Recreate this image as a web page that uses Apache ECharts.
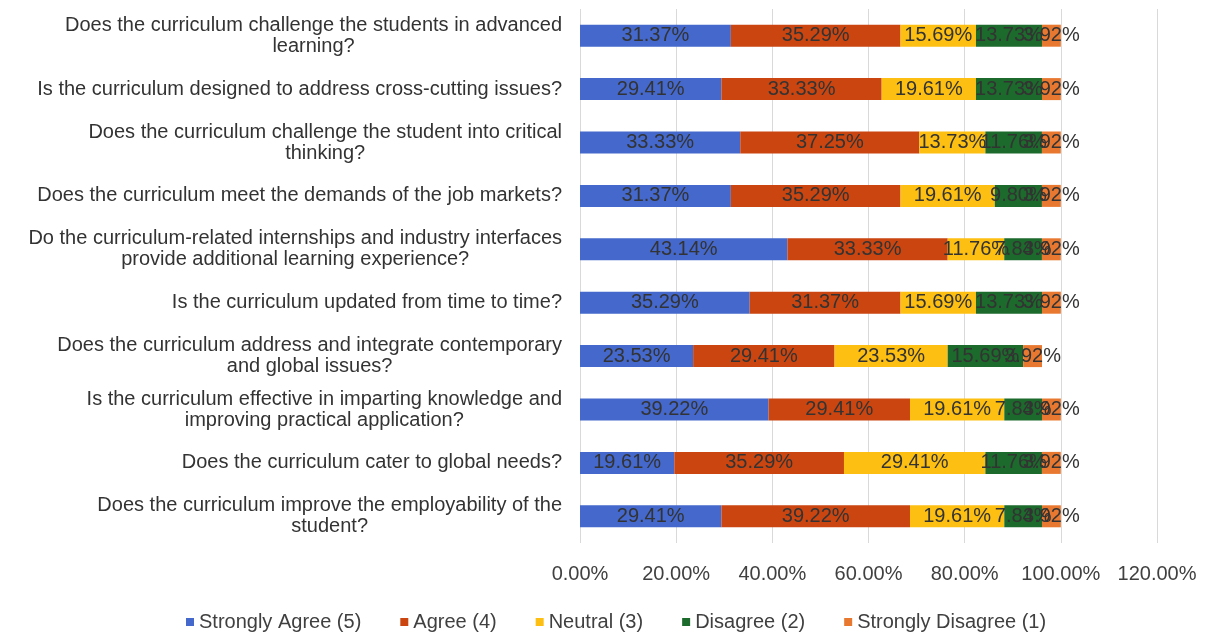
<!DOCTYPE html>
<html>
<head>
<meta charset="utf-8">
<script src="https://cdn.jsdelivr.net/npm/echarts@6/dist/echarts.min.js"></script>
<style>
  html, body { margin: 0; padding: 0; background: #ffffff; }
  #chart { width: 1208px; height: 634px; }
</style>
</head>
<body>
<div id="chart"></div>
<script>
const categories = [
  "Does the curriculum challenge the students in advanced\nlearning?",
  "Is the curriculum designed to address cross-cutting issues?",
  "Does the curriculum challenge the student into critical\nthinking?",
  "Does the curriculum meet the demands of the job markets?",
  "Do the curriculum-related internships and industry interfaces\nprovide additional learning experience?",
  "Is the curriculum updated from time to time?",
  "Does the curriculum address and integrate contemporary\nand global issues?",
  "Is the curriculum effective in imparting knowledge and\nimproving practical application?",
  "Does the curriculum cater to global needs?",
  "Does the curriculum improve the employability of the\nstudent?"
];
const seriesNames = ["Strongly Agree (5)", "Agree (4)", "Neutral (3)", "Disagree (2)", "Strongly Disagree (1)"];
const stronglyAgree    = [31.37, 29.41, 33.33, 31.37, 43.14, 35.29, 23.53, 39.22, 19.61, 29.41];
const agree            = [35.29, 33.33, 37.25, 35.29, 33.33, 31.37, 29.41, 29.41, 35.29, 39.22];
const neutral          = [15.69, 19.61, 13.73, 19.61, 11.76, 15.69, 23.53, 19.61, 29.41, 19.61];
const disagree         = [13.73, 13.73, 11.76, 9.80, 7.84, 13.73, 15.69, 7.84, 11.76, 7.84];
const stronglyDisagree = [3.92, 3.92, 3.92, 3.92, 3.92, 3.92, 3.92, 3.92, 3.92, 3.92];
const xTicks = { min: 0, max: 120, interval: 20 };

const colors = ["#4468CB", "#CA4510", "#FCBF12", "#1C6A2C", "#E8782F"];
const FONT = "'Liberation Sans', Arial, sans-serif";
const values = [stronglyAgree, agree, neutral, disagree, stronglyDisagree];

const chart = echarts.init(document.getElementById('chart'), null, { renderer: 'canvas' });
chart.setOption({
  backgroundColor: '#ffffff',
  animation: false,
  color: colors,
  textStyle: { fontFamily: FONT },
  grid: { left: 580, right: 51, top: 9, bottom: 91, containLabel: false },
  legend: {
    data: seriesNames,
    top: 607,
    left: 181,
    icon: 'rect',
    itemWidth: 8,
    itemHeight: 8,
    itemGap: 39,
    textStyle: { fontFamily: FONT, fontSize: 20, color: '#404040' }
  },
  xAxis: {
    type: 'value',
    min: xTicks.min, max: xTicks.max, interval: xTicks.interval,
    axisLine: { show: false },
    axisTick: { show: false },
    splitLine: { show: true, lineStyle: { color: '#D9D9D9', width: 1 } },
    axisLabel: {
      fontFamily: FONT, fontSize: 20, color: '#404040', margin: 21,
      formatter: v => v.toFixed(2) + '%'
    }
  },
  yAxis: {
    type: 'category',
    data: categories,
    inverse: true,
    axisLine: { show: false },
    axisTick: { show: false },
    axisLabel: {
      fontFamily: FONT, fontSize: 20, color: '#333333', margin: 18,
      formatter: v => v.split('\n').map(l => '{c|' + l + '}').join('\n'),
      rich: { c: { align: 'center', fontFamily: FONT, fontSize: 20, lineHeight: 21, color: '#333333' } }
    }
  },
  series: seriesNames.map((name, i) => ({
    name: name,
    type: 'bar',
    stack: 'total',
    barWidth: 22,
    data: values[i],
    itemStyle: { color: colors[i] },
    label: {
      show: true,
      position: 'inside',
      fontFamily: FONT,
      fontSize: 20,
      color: '#333333',
      formatter: p => p.value.toFixed(2) + '%'
    }
  }))
});
</script>
</body>
</html>
